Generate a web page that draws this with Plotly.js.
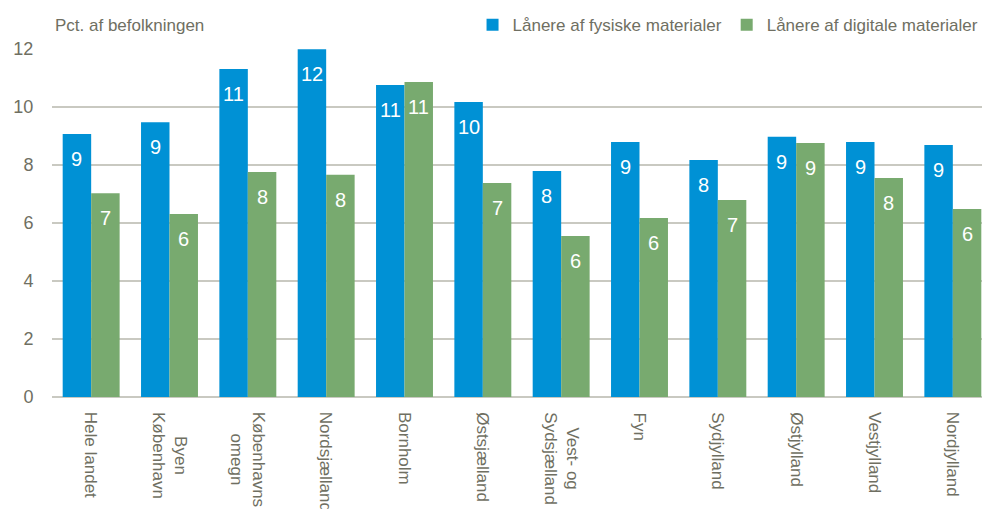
<!DOCTYPE html>
<html>
<head>
<meta charset="utf-8">
<script src="https://cdn.plot.ly/plotly-3.0.1.min.js"></script>
<style>
html,body{margin:0;padding:0;overflow:hidden;background:#fff;}
#chart{width:992px;height:509px;}
</style>
</head>
<body>
<div id="chart"></div>
<script>
const categories = ["Hele landet","Byen<br>København","Københavns<br>omegn","Nordsjælland","Bornholm","Østsjælland","Vest- og<br>Sydsjælland","Fyn","Sydjylland","Østjylland","Vestjylland","Nordjylland"];
const fysiske = [9.07, 9.47, 11.31, 11.99, 10.76, 10.17, 7.79, 8.79, 8.17, 8.97, 8.79, 8.69];
const digitale = [7.03, 6.31, 7.76, 7.66, 10.86, 7.38, 5.55, 6.17, 6.79, 8.76, 7.55, 6.48];
const seriesNames = ["Lånere af fysiske materialer", "Lånere af digitale materialer"];
const yTitle = "Pct. af befolkningen";

const blue = "#0091d5";
const green = "#78aa6f";
const gray = "#6f6f62";
const font = "Liberation Sans, Arial, sans-serif";
const narrow = "Liberation Sans Narrow, Liberation Sans, Arial, sans-serif";

const traces = [
  {type:"bar", name:seriesNames[0], x:categories, y:fysiske, marker:{color:blue}, hoverinfo:"skip"},
  {type:"bar", name:seriesNames[1], x:categories, y:digitale, marker:{color:green}, hoverinfo:"skip"}
];

const annotations = [];
[fysiske, digitale].forEach((arr, si) => {
  arr.forEach((v, i) => {
    annotations.push({
      x: categories[i], y: v, xref:"x", yref:"y",
      text: String(Math.round(v)),
      showarrow:false, yanchor:"top", yshift:-12,
      xshift: si === 0 ? -14.3 : 14.3,
      font:{family:narrow, size:20, color:"#ffffff"}
    });
  });
});
categories.forEach((c) => {
  annotations.push({
    x:c, xref:"x", y:0, yref:"paper", yanchor:"top", xanchor:"center",
    yshift:-13, textangle:90, align:"center", showarrow:false, text:c,
    font:{family:font, size:17, color:gray}
  });
});
annotations.push({
  xref:"paper", yref:"paper", x:0, y:1, xanchor:"left", yanchor:"bottom",
  yshift:12, xshift:1, text:yTitle, showarrow:false,
  font:{family:font, size:17, color:gray}
});

const layout = {
  width:992, height:509,
  margin:{l:51.5, r:0, t:49, b:112},
  paper_bgcolor:"#fff", plot_bgcolor:"#fff",
  barmode:"group", bargap:0.273, bargroupgap:0,
  font:{family:font, color:gray},
  showlegend:true,
  legend:{orientation:"h", x:0.991, xanchor:"right", y:1.017, yanchor:"bottom",
          font:{family:font, size:17, color:gray}, itemwidth:30, tracegroupgap:0},
  xaxis:{showticklabels:false, showline:false, ticks:"", showgrid:false, zeroline:false, automargin:false},
  yaxis:{range:[0,12], dtick:2, tick0:0, tickfont:{family:font, size:18, color:gray},
         showgrid:true, gridcolor:"#c9c9c1", gridwidth:1.5,
         zeroline:true, zerolinecolor:"#c9c9c1", zerolinewidth:1.5,
         ticks:"outside", ticklen:14, tickcolor:"rgba(0,0,0,0)", showline:false, automargin:false},
  annotations: annotations
};

Plotly.newPlot("chart", traces, layout, {displayModeBar:false, staticPlot:true});
</script>
</body>
</html>
